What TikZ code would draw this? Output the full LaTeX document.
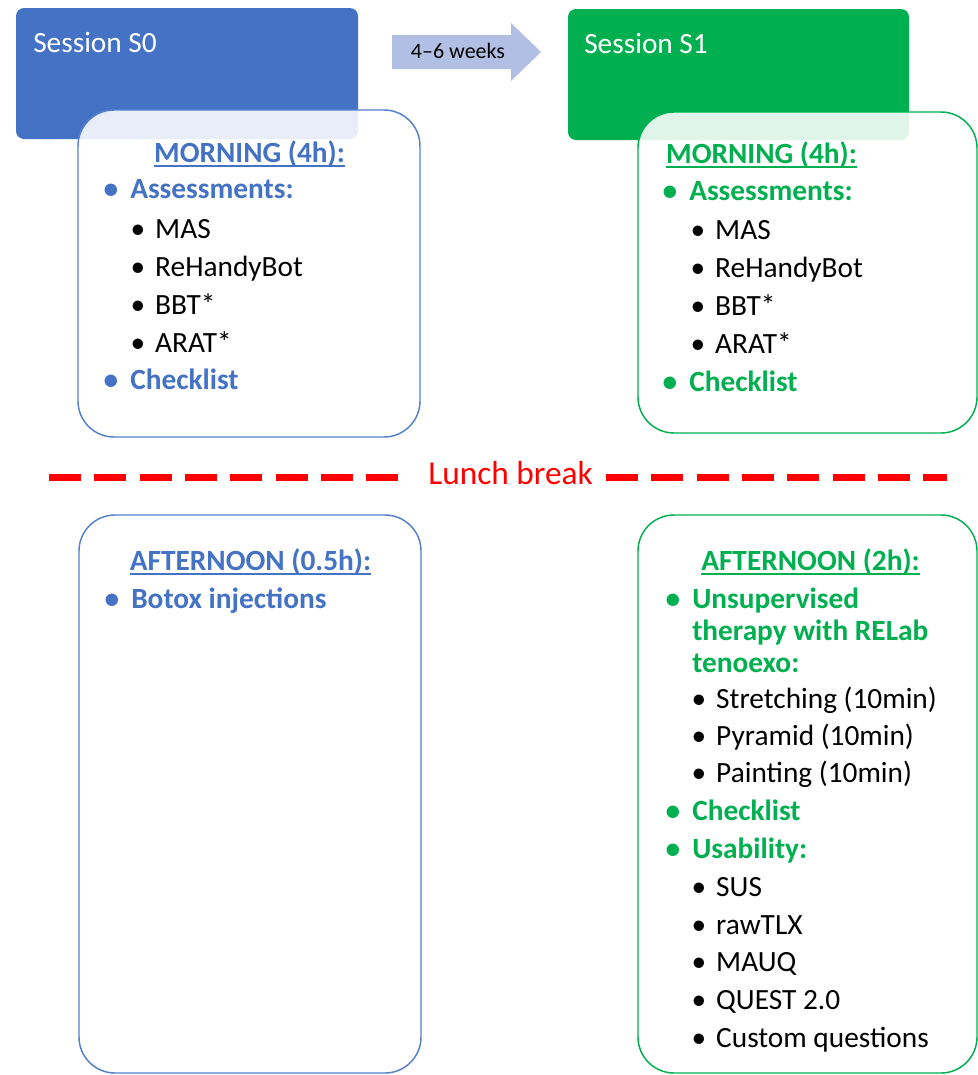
\documentclass[tikz,border=0pt]{standalone}
\usepackage{fontspec}
\setmainfont{Carlito}
\usetikzlibrary{calc}
\definecolor{sblue}{HTML}{4472C4}
\definecolor{bblue}{HTML}{5580CC}
\definecolor{sgreen}{HTML}{00B050}
\definecolor{arrowblue}{HTML}{B0BFE3}
\definecolor{lred}{HTML}{FF0000}
\newcommand{\bulA}{\llap{\makebox[0pt][c]{•}\hspace{14.5pt}}}
\newcommand{\bulB}{\llap{\makebox[0pt][c]{•}\hspace{13pt}}}
\tikzset{
  sessbox/.style={rounded corners=6pt},
  periodbox/.style={rounded corners=27pt, line width=1.1pt, fill=white, fill opacity=0.88},
  txt/.style={inner sep=0pt, anchor=base west, font=\fontsize{22}{26}\selectfont},
  bluetxt/.style={txt, text=sblue, font=\fontsize{22}{26}\selectfont\bfseries},
  greentxt/.style={txt, text=sgreen, font=\fontsize{22}{26}\selectfont\bfseries},
  ul/.style={line width=1.4pt},
  sesstxt/.style={txt, text=white},
  lunchline/.style={lred, line width=5pt, dash pattern=on 24pt off 10pt},
}
\begin{document}
\begin{tikzpicture}[x=0.75pt,y=-0.75pt]
\useasboundingbox (0,0) rectangle (978,1075);
% session boxes
\fill[sessbox, sblue] (16,8) rectangle (358,139);
\fill[sessbox, sgreen] (568,9) rectangle (909,140);
\node[sesstxt] (s0) at (33,52) {Session S0};
\node[sesstxt] (s1) at (584,53) {Session S1};
% arrow
\fill[arrowblue] (392,35) -- (511,35) -- (511,23) -- (541,52) -- (511,81) -- (511,69) -- (392,69) -- cycle;
\node[inner sep=0pt, anchor=base, font=\fontsize{16.5}{20}\selectfont] (wk) at (458,58) {4–6 weeks};
% period boxes
\draw[periodbox, draw=bblue] (78,110) rectangle (420,437);
\draw[periodbox, draw=sgreen] (638,112) rectangle (977,433);
\draw[periodbox, draw=bblue] (79,515) rectangle (421,1073);
\draw[periodbox, draw=sgreen] (638,515) rectangle (977,1073);
% lunch break
\coordinate (ll) at (49,477.5);
\coordinate (lr) at (947,477.5);
\node[inner sep=0pt, anchor=base west, text=lred, font=\fontsize{25}{30}\selectfont] (lunch) at (428,484) {Lunch break};
\coordinate (lle) at (406,477.5);
\coordinate (lrs) at (606,477.5);
\draw[lunchline] (ll) -- (lle);
\draw[lunchline] (lrs) -- (lr);
% blue morning
\node[bluetxt, anchor=base] (bmh) at (249.5,162) {MORNING (4h):};
\draw[ul, sblue] ($(bmh.base west)+(0,4)$) -- ($(bmh.base east)+(0,4)$);
\node[bluetxt] (ba) at (130,198) {\bulA Assessments:};
\node[txt] (b1) at (155,238) {\bulB MAS};
\node[txt] (b2) at (155,276) {\bulB ReHandyBot};
\node[txt] (b3) at (155,314) {\bulB BBT*};
\node[txt] (b4) at (155,352) {\bulB ARAT*};
\node[bluetxt] (bc) at (130,389) {\bulA Checklist};
% green morning
\node[greentxt, anchor=base] (gmh) at (761.5,163) {MORNING (4h):};
\draw[ul, sgreen] ($(gmh.base west)+(0,4)$) -- ($(gmh.base east)+(0,4)$);
\node[greentxt] (ga) at (689,200) {\bulA Assessments:};
\node[txt] (g1) at (715,239) {\bulB MAS};
\node[txt] (g2) at (715,277) {\bulB ReHandyBot};
\node[txt] (g3) at (715,315) {\bulB BBT*};
\node[txt] (g4) at (715,353) {\bulB ARAT*};
\node[greentxt] (gc) at (689,391) {\bulA Checklist};
% blue afternoon
\node[bluetxt, anchor=base] (bah) at (250.5,570) {AFTERNOON (0.5h):};
\draw[ul, sblue] ($(bah.base west)+(0,4)$) -- ($(bah.base east)+(0,4)$);
\node[bluetxt] (bb) at (131,608) {\bulA Botox injections};
% green afternoon
\node[greentxt, anchor=base] (gah) at (810.5,570) {AFTERNOON (2h):};
\draw[ul, sgreen] ($(gah.base west)+(0,4)$) -- ($(gah.base east)+(0,4)$);
\node[greentxt] (gu1) at (692,608) {\bulA Unsupervised};
\node[greentxt] (gu2) at (692,640) {therapy with RELab};
\node[greentxt] (gu3) at (692,672) {tenoexo:};
\node[txt] (gs1) at (716,708) {\bulB Stretching (10min)};
\node[txt] (gs2) at (716,745) {\bulB Pyramid (10min)};
\node[txt] (gs3) at (716,782) {\bulB Painting (10min)};
\node[greentxt] (gck) at (692,820) {\bulA Checklist};
\node[greentxt] (gus) at (692,858) {\bulA Usability:};
\node[txt] (u1) at (716,896) {\bulB SUS};
\node[txt] (u2) at (716,934) {\bulB rawTLX};
\node[txt] (u3) at (716,971) {\bulB MAUQ};
\node[txt] (u4) at (716,1009) {\bulB QUEST 2.0};
\node[txt] (u5) at (716,1047) {\bulB Custom questions};
\end{tikzpicture}
\end{document}
